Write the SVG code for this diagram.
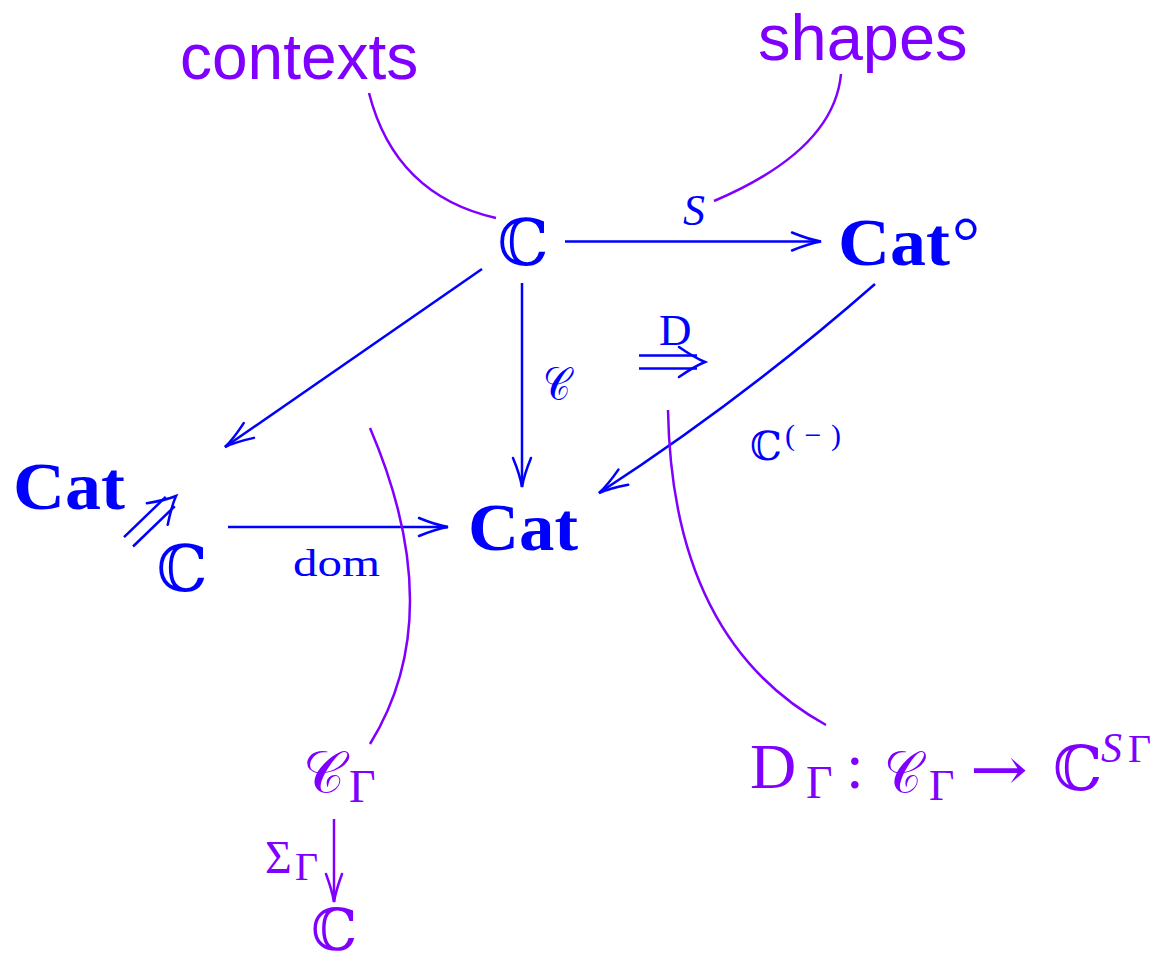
<svg xmlns="http://www.w3.org/2000/svg" xmlns:xlink="http://www.w3.org/1999/xlink" width="1170" height="965" viewBox="0 0 1170 965">
<style>
.b{fill:#0000ff}
.p{fill:#8000ff}
.serif{font-family:"Liberation Serif","DejaVu Serif",serif}
.bb{font-family:"DejaVu Serif","DejaVu Sans",serif}
.sans{font-family:"Liberation Sans",Arial,sans-serif}
.bold{font-weight:bold}
.it{font-style:italic}
.lb{fill:none;stroke:#0000ff;stroke-width:2.5}
.lp{fill:none;stroke:#8000ff;stroke-width:2.5}
</style>
<defs>
<marker id="ab" markerUnits="userSpaceOnUse" markerWidth="40" markerHeight="30" viewBox="-34 -15 40 30" refX="0" refY="0" orient="auto">
<path d="M-29,-9 Q-12,-2 0,0 Q-12,2 -29,9" fill="none" stroke="#0000ff" stroke-width="2.5" stroke-linecap="round"/>
</marker>
<marker id="ap" markerUnits="userSpaceOnUse" markerWidth="40" markerHeight="30" viewBox="-34 -15 40 30" refX="0" refY="0" orient="auto">
<path d="M-28,-8 Q-12,-2 0,0 Q-12,2 -28,8" fill="none" stroke="#8000ff" stroke-width="2.5" stroke-linecap="round"/>
</marker>
<g id="dbl">
<path d="M-66,-6.5 H-8 M-66,6.5 H-8" fill="none" stroke="#0000ff" stroke-width="2.5"/>
<path d="M-26,-15 Q-10,-4 0,0 Q-10,4 -26,15" fill="none" stroke="#0000ff" stroke-width="2.5" stroke-linecap="round"/>
</g>
</defs>

<g id="connectors">
<path class="lb" d="M565,241.5 H821" marker-end="url(#ab)"/>
<path class="lb" d="M522,283 V487" marker-end="url(#ab)"/>
<path class="lb" d="M482,269 L225,447" marker-end="url(#ab)"/>
<path class="lb" d="M228,527 H448" marker-end="url(#ab)"/>
<path class="lb" d="M875,284 Q745,398 599,493" marker-end="url(#ab)"/>
<use xlink:href="#dbl" href="#dbl" transform="translate(705,362)"/>
<use xlink:href="#dbl" href="#dbl" transform="translate(176,496) rotate(-44)"/>
<path class="lp" d="M369,93 Q395,195 496,218"/>
<path class="lp" d="M841,74 Q834,150 714,201"/>
<path class="lp" d="M370,428 Q450,615 370,744"/>
<path class="lp" d="M668,410 Q672,640 826,725"/>
<path class="lp" d="M334,819 V902" marker-end="url(#ap)"/>
</g>

<g id="label-contexts"><text class="p sans" x="180" y="79" font-size="64">contexts</text></g>
<g id="label-shapes"><text class="p sans" x="758" y="60" font-size="65">shapes</text></g>

<g id="node-C-top"><text class="b bb" x="523" y="265" font-size="64" text-anchor="middle">ℂ</text></g>
<g id="node-Cat-op"><text class="b serif bold" x="838" y="265" font-size="68"><tspan textLength="112" lengthAdjust="spacingAndGlyphs">Cat</tspan><tspan font-weight="normal" font-size="70" dx="2">°</tspan></text></g>
<g id="node-Cat-left"><text class="b serif bold" x="13" y="509" font-size="68" textLength="112" lengthAdjust="spacingAndGlyphs">Cat</text></g>
<g id="node-Cat-center"><text class="b serif bold" x="468" y="550" font-size="68" textLength="110" lengthAdjust="spacingAndGlyphs">Cat</text></g>
<g id="node-C-left"><text class="b bb" x="182" y="591" font-size="64" text-anchor="middle">ℂ</text></g>

<g id="label-S"><text class="b serif it" x="683" y="225" font-size="44">S</text></g>
<g id="label-calC"><text class="b bb" x="543" y="400" font-size="46" textLength="28" lengthAdjust="spacingAndGlyphs">𝒞</text></g>
<g id="label-D"><text class="b serif" x="659" y="345" font-size="45">D</text></g>
<g id="label-Cminus"><text class="b bb" x="750" y="460" font-size="40">ℂ</text><text class="b serif" x="785" y="445" font-size="30" textLength="56" lengthAdjust="spacing">(−)</text></g>
<g id="label-dom"><text class="b serif" x="293" y="576" font-size="38" textLength="87" lengthAdjust="spacingAndGlyphs">dom</text></g>

<g id="node-calC-Gamma"><text class="p bb" x="303" y="793" font-size="60" textLength="42" lengthAdjust="spacingAndGlyphs">𝒞</text><text class="p serif" x="349" y="802" font-size="46">Γ</text></g>
<g id="label-Sigma"><text class="p serif" x="265" y="873" font-size="46">Σ</text><text class="p serif" x="295" y="880" font-size="40">Γ</text></g>
<g id="node-C-bottom"><text class="p bb" x="334" y="950" font-size="58" text-anchor="middle">ℂ</text></g>
<g id="node-D-Gamma">
<text class="p serif" x="750" y="788" font-size="64">D</text>
<text class="p serif" x="806" y="798" font-size="46">Γ</text>
<text class="p serif" x="846" y="788" font-size="64">:</text>
<text class="p bb" x="884" y="793" font-size="60" textLength="38" lengthAdjust="spacingAndGlyphs">𝒞</text>
<text class="p serif" x="929" y="800" font-size="44">Γ</text>
<text class="p bb" x="970" y="790" font-size="60" textLength="58" lengthAdjust="spacingAndGlyphs">→</text>
<text class="p bb" x="1053" y="790" font-size="62">ℂ</text>
<text class="p serif it" x="1101" y="762" font-size="42">S</text>
<text class="p serif" x="1128" y="762" font-size="40">Γ</text>
</g>
</svg>
